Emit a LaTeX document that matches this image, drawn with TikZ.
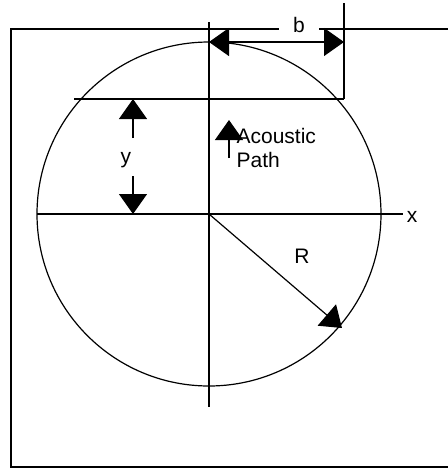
\documentclass[tikz,border=0pt]{standalone}
\usepackage{fontspec}
\setmainfont{Liberation Sans}
\usetikzlibrary{arrows.meta}

\begin{document}
\begin{tikzpicture}[x=0.75pt,y=-0.75pt,font=\fontsize{15.75}{18}\selectfont,
    line width=0.9pt,
    frameline/.style={line width=1.5pt},
    axisline/.style={line width=1.2pt},
    bigtip/.style={-{Triangle[length=15pt,width=21pt]}},
    dimtips/.style={{Triangle[length=15pt,width=21pt]}-{Triangle[length=15pt,width=21pt]}},
    lbl/.style={inner sep=1pt}]
  \useasboundingbox (0,0) rectangle (448,469);

  % key points
  \coordinate (O) at (209,214);
  \coordinate (vtop) at (209,22);
  \coordinate (vbot) at (209,407);
  \coordinate (xleft) at (37,214);
  \coordinate (xright) at (403,214);
  \coordinate (chordL) at (74,99);
  \coordinate (chordR) at (344,99);
  \coordinate (extTop) at (344,3);
  \coordinate (bL) at (209,42);
  \coordinate (bR) at (344,42);
  \coordinate (yTopTail) at (133,138);
  \coordinate (yTop) at (133,99);
  \coordinate (yBotTail) at (133,176);
  \coordinate (yBot) at (133,214);
  \coordinate (pathTail) at (229,158);
  \coordinate (pathTip) at (229,120);
  \coordinate (rim) at (342,328);

  % outer frame (open on the right)
  \draw[frameline] (448,29) -- (11,29) -- (11,467) -- (448,467);

  % pipe section and axes
  \draw (O) circle[radius=129pt];
  \draw (vtop) -- (vbot);
  \draw[axisline] (xleft) -- (xright);
  \draw (chordL) -- (chordR);
  \draw (extTop) -- (chordR);

  % dimensions
  \draw[dimtips] (bL) -- (bR);
  \node[lbl,fill=white,minimum width=30pt] (blbl) at (299,25) {b};
  \draw[bigtip] (yTopTail) -- (yTop);
  \draw[bigtip] (yBotTail) -- (yBot);
  \node[lbl] (ylbl) at (126,160) {y};
  \draw[bigtip] (O) -- (rim);
  \node[lbl] (rlbl) at (302,256) {R};
  \node[lbl] (xlbl) at (412,217) {x};

  % acoustic path
  \draw[bigtip] (pathTail) -- (pathTip);
  \node[inner sep=0pt,anchor=north west,align=left] (path) at (236,128) {Acoustic\\Path};
\end{tikzpicture}
\end{document}
